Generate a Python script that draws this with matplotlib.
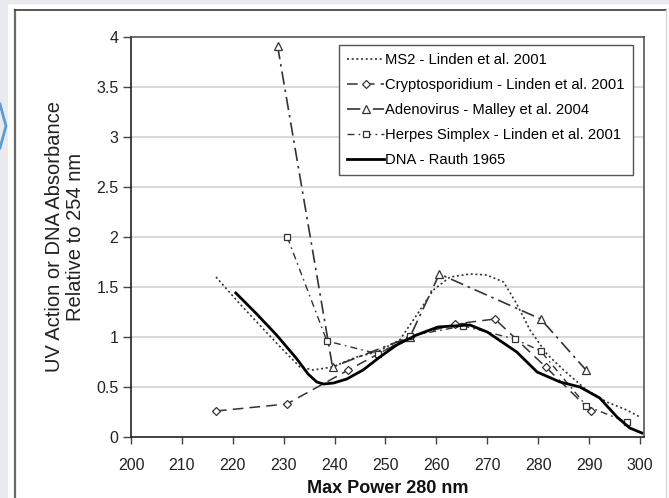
import matplotlib
matplotlib.use('Agg')
import matplotlib.pyplot as plt
from matplotlib.lines import Line2D
from matplotlib.patches import Rectangle

plt.rcParams['font.family'] = ['Liberation Sans', 'DejaVu Sans']

# 数据
ms2_x = [216.7, 221.4, 226.0, 229.9, 233.2, 235.8, 239.6, 244.3, 248.3, 252.8, 256.8, 259.4,
         262.7, 266.6, 269.9, 273.2, 275.8, 278.4, 281.7, 285.0, 289.5, 293.5, 297.4, 300.0]
ms2_y = [1.60, 1.33, 1.08, 0.87, 0.70, 0.67, 0.70, 0.80, 0.85, 0.97, 1.27, 1.47,
         1.60, 1.63, 1.62, 1.55, 1.33, 1.07, 0.83, 0.67, 0.47, 0.35, 0.27, 0.20]

crypto_x = [216.7, 230.6, 242.7, 254.8, 263.7, 271.5, 281.5, 290.3]
crypto_y = [0.26, 0.33, 0.67, 1.00, 1.13, 1.18, 0.70, 0.26]

adeno_x = [228.8, 239.6, 254.8, 260.6, 280.5, 289.4]
adeno_y = [3.91, 0.70, 1.00, 1.63, 1.18, 0.67]

herpes_x = [230.7, 238.5, 248.6, 254.8, 265.3, 275.4, 280.5, 289.5, 297.4]
herpes_y = [2.00, 0.96, 0.83, 1.01, 1.11, 0.98, 0.86, 0.31, 0.15]

dna_x = [220.6, 224.7, 228.6, 232.6, 234.8, 236.5, 237.8, 239.8, 242.4, 245.6, 248.9, 252.2,
         256.1, 260.3, 263.3, 266.6, 270.0, 275.8, 279.8, 284.3, 288.2, 292.1, 295.5, 298.0, 300.4]
dna_y = [1.44, 1.23, 1.02, 0.78, 0.63, 0.55, 0.53, 0.54, 0.58, 0.67, 0.80, 0.92,
         1.02, 1.10, 1.11, 1.12, 1.05, 0.85, 0.65, 0.55, 0.50, 0.39, 0.20, 0.09, 0.04]

x_ticks = [200, 210, 220, 230, 240, 250, 260, 270, 280, 290, 300]
y_ticks = [0, 0.5, 1, 1.5, 2, 2.5, 3, 3.5, 4]
y_tick_labels = ['0', '0.5', '1', '1.5', '2', '2.5', '3', '3.5', '4']

W, H = 669, 498
fig = plt.figure(figsize=(W / 100, H / 100), dpi=100)
fig.patch.set_facecolor('white')


def fx(px):
    return px / W


def fy(py):
    return 1 - py / H


# 页面背景和外框
fig.patches.append(Rectangle((0, 0), fx(7), 1, transform=fig.transFigure, color='#e8eaed', zorder=0))
fig.patches.append(Rectangle((0, fy(3)), 1, 3 / H, transform=fig.transFigure, color='#e8eaed', zorder=0))
fig.lines.append(Line2D([fx(15), fx(15)], [fy(10), 0], transform=fig.transFigure, color='#6a6a6a', lw=1.6))
fig.lines.append(Line2D([fx(15), fx(666)], [fy(10), fy(10)], transform=fig.transFigure, color='#3a3a3a', lw=1.2))
fig.lines.append(Line2D([fx(666), fx(666)], [fy(10), 0], transform=fig.transFigure, color='#d8d8d8', lw=1.0))
fig.lines.append(Line2D([fx(0), fx(6), fx(0)], [fy(104), fy(126), fy(148)], transform=fig.transFigure,
                        color='#5b9bd5', lw=2))

ax = fig.add_axes([fx(131), 1 - 437 / H, (644 - 131) / W, (437 - 37) / H])

ink = '#333333'
ax.plot(ms2_x, ms2_y, linestyle=(0, (1.2, 1.6)), color=ink, lw=1.2, label='MS2 - Linden et al. 2001')
ax.plot(crypto_x, crypto_y, linestyle=(0, (7, 4)), color=ink, lw=1.1, marker='D', markersize=4.5,
        markerfacecolor='white', markeredgecolor=ink, markeredgewidth=0.9,
        label='Cryptosporidium - Linden et al. 2001')
ax.plot(adeno_x, adeno_y, linestyle=(0, (8, 3, 1.5, 3)), color=ink, lw=1.2, marker='^', markersize=5.5,
        markerfacecolor='white', markeredgecolor=ink, markeredgewidth=0.9,
        label='Adenovirus - Malley et al. 2004')
ax.plot(herpes_x, herpes_y, linestyle=(0, (5, 3, 1.2, 3)), color=ink, lw=1.0, marker='s', markersize=5,
        markerfacecolor='white', markeredgecolor=ink, markeredgewidth=0.9,
        label='Herpes Simplex - Linden et al. 2001')
ax.plot(dna_x, dna_y, linestyle='-', color='black', lw=2.0, label='DNA - Rauth 1965')

ax.set_xlim(200, 300.8)
ax.set_ylim(0, 4)
ax.set_xticks(x_ticks)
ax.set_yticks(y_ticks)
ax.set_yticklabels(y_tick_labels)

# 网格线
for v in y_ticks[1:-1]:
    ax.axhline(v, color='#d6d6d6', lw=1.3, zorder=0)

for side in ['left', 'bottom']:
    ax.spines[side].set_color('#222222')
    ax.spines[side].set_linewidth(1.2)
for side in ['top', 'right']:
    ax.spines[side].set_color('#555555')
    ax.spines[side].set_linewidth(1.2)

ax.tick_params(axis='x', direction='out', length=5, width=1, color='#444444', pad=10,
               labelsize=11.5, labelcolor='#222222')
ax.tick_params(axis='y', direction='out', length=6, width=1, color='#444444', pad=3,
               labelsize=11.5, labelcolor='#222222')

ax.set_xlabel('Max Power 280 nm', fontsize=13, fontweight='bold', color='#111111', labelpad=5)
fig.text(fx(65), fy(237), 'UV Action or DNA Absorbance\nRelative to 254 nm', rotation=90,
         ha='center', va='center', multialignment='center', fontsize=14.5, linespacing=1.1, color='#222222')

leg = ax.legend(loc='upper right', bbox_to_anchor=((633 - 131) / 513, (437 - 45) / 400), borderaxespad=0,
                fontsize=10.6, handlelength=2.5, handletextpad=0.1, labelspacing=0.75,
                fancybox=False, framealpha=1, edgecolor='#555555', borderpad=0.55)
leg.get_frame().set_linewidth(1.0)

fig.savefig('out.png', dpi=100)
